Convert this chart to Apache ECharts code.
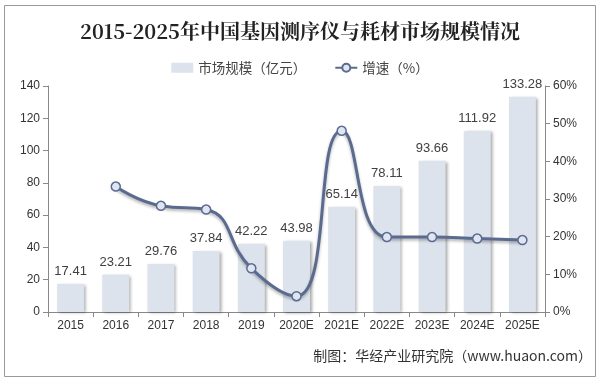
<!DOCTYPE html>
<html><head><meta charset="utf-8">
<script src="https://cdn.jsdelivr.net/npm/echarts@6/dist/echarts.min.js"></script>
<style>html,body{margin:0;padding:0;background:#fff}#c{width:600px;height:382px}</style>
</head><body><div id="c"></div>
<script>
const categories = ['2015','2016','2017','2018','2019','2020E','2021E','2022E','2023E','2024E','2025E'];
const marketSize = [17.41,23.21,29.76,37.84,42.22,43.98,65.14,78.11,93.66,111.92,133.28];
const growth = [null,33.3,28.2,27.2,11.6,4.2,48.1,19.9,19.9,19.5,19.1];
const leftTicks = {min:0,max:140,interval:20};
const rightTicks = {min:0,max:60,interval:10};

const chart = echarts.init(document.getElementById('c'));
const axisTxt = {color:'#333',fontSize:12,fontFamily:'Liberation Sans, Arial'};
chart.setOption({
  animation:false,
  title:{text:'2015-2025年中国基因测序仪与耗材市场规模情况',left:'center',top:16,
    textStyle:{fontFamily:'Noto Serif CJK SC, Noto Sans CJK SC, serif',fontWeight:'bold',fontSize:20,color:'#222'}},
  legend:{top:56,left:'center',itemGap:28,itemWidth:22,itemHeight:10,
    textStyle:{fontSize:13.5,color:'#444',fontFamily:'Noto Sans CJK SC'},
    data:[{name:'市场规模（亿元）',icon:'rect'},{name:'增速（%）'}]},
  grid:{left:48,right:55,top:86,bottom:70},
  graphic:[
    {type:'rect',shape:{x:4.5,y:5.5,width:591,height:371},style:{fill:'none',stroke:'#999',lineWidth:1}},
    {type:'text',right:8,top:349,style:{text:'制图：华经产业研究院（www.huaon.com）',fill:'#333',font:'14px Noto Sans CJK SC'}}
  ],
  xAxis:{type:'category',data:categories,
    axisLine:{lineStyle:{color:'#888'}},axisTick:{show:true,lineStyle:{color:'#888'}},
    axisLabel:Object.assign({margin:8},axisTxt)},
  yAxis:[
    {type:'value',min:leftTicks.min,max:leftTicks.max,interval:leftTicks.interval,
     axisLine:{show:true,lineStyle:{color:'#888'}},axisTick:{show:true,lineStyle:{color:'#888'}},
     splitLine:{show:false},axisLabel:Object.assign({margin:8},axisTxt)},
    {type:'value',min:rightTicks.min,max:rightTicks.max,interval:rightTicks.interval,
     axisLine:{show:true,lineStyle:{color:'#888'}},axisTick:{show:true,lineStyle:{color:'#888'}},
     splitLine:{show:false},axisLabel:Object.assign({margin:8,formatter:'{value}%'},axisTxt)}
  ],
  series:[
    {name:'市场规模（亿元）',type:'bar',data:marketSize,barWidth:27,
     itemStyle:{color:'#dde3ec',shadowColor:'rgba(0,0,0,0.35)',shadowBlur:3,shadowOffsetX:2,shadowOffsetY:1},
     label:{show:true,position:'top',distance:6,color:'#404040',fontSize:13,fontFamily:'Liberation Sans, Arial'}},
    {name:'增速（%）',type:'line',yAxisIndex:1,data:growth,smooth:0.5,connectNulls:false,
     symbol:'circle',symbolSize:9,
     lineStyle:{color:'#5a6b8f',width:3,shadowColor:'rgba(0,0,0,0.3)',shadowBlur:3,shadowOffsetY:2},
     itemStyle:{color:'#dfe5f2',borderColor:'#5a6b8f',borderWidth:1.5}}
  ]
});
</script></body></html>
